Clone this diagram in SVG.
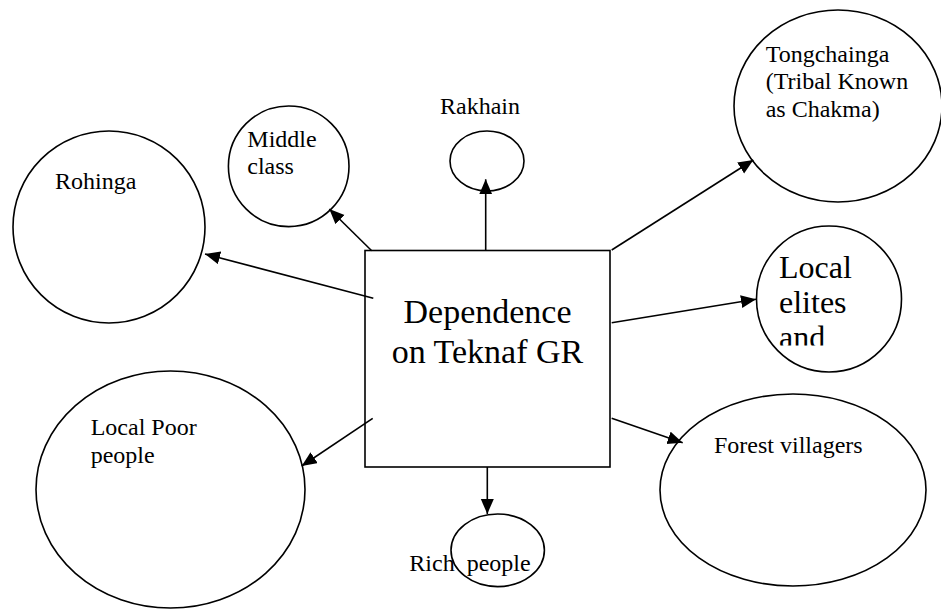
<svg xmlns="http://www.w3.org/2000/svg" width="941" height="609" viewBox="0 0 941 609">
  <style>
    .shape { fill: #ffffff; stroke: #000000; stroke-width: 1.6; }
    .link { fill: none; stroke: #000000; stroke-width: 1.6; }
    .lbl { font-family: 'Liberation Serif', 'Times New Roman', 'DejaVu Serif', serif; font-size: 24px; fill: #000000; }
    .big { font-size: 32px; }
    .hub { font-family: 'Liberation Serif', 'Times New Roman', 'DejaVu Serif', serif; font-size: 34px; fill: #000000; text-anchor: middle; }
  </style>
  <defs>
    <marker id="arrow" markerUnits="userSpaceOnUse" markerWidth="16" markerHeight="14" refX="15" refY="6.5" orient="auto">
      <path d="M0,0 L15,6.5 L0,13 z" fill="#000000"/>
    </marker>
    <clipPath id="elitesClip">
      <rect x="760" y="240" width="140" height="105.5"/>
    </clipPath>
  </defs>

  <rect width="941" height="609" fill="#ffffff"/>

  <!-- central hub -->
  <g id="hub">
    <rect class="shape" x="365" y="250.5" width="245" height="216.5"/>
    <text class="hub" x="487.5" y="323">Dependence</text>
    <text class="hub" x="487.5" y="363">on Teknaf GR</text>
  </g>

  <!-- surrounding groups -->
  <g id="rohinga">
    <ellipse class="shape" cx="109" cy="227" rx="96" ry="96"/>
    <text class="lbl" x="55" y="189">Rohinga</text>
  </g>

  <g id="middle-class">
    <circle class="shape" cx="288.7" cy="166.3" r="60.3"/>
    <text class="lbl" x="247.3" y="147.3">Middle</text>
    <text class="lbl" x="247.3" y="174.3">class</text>
  </g>

  <g id="rakhain">
    <ellipse class="shape" cx="487" cy="161" rx="37" ry="30"/>
    <text class="lbl" x="440" y="114.3">Rakhain</text>
  </g>

  <g id="tongchainga">
    <ellipse class="shape" cx="838" cy="106" rx="104" ry="96"/>
    <text class="lbl" x="765.7" y="61.7">Tongchainga</text>
    <text class="lbl" x="765.7" y="89.3">(Tribal Known</text>
    <text class="lbl" x="765.7" y="116.7">as Chakma)</text>
  </g>

  <g id="local-elites">
    <ellipse class="shape" cx="829" cy="299" rx="72.5" ry="73"/>
    <g clip-path="url(#elitesClip)">
      <text class="lbl big" x="779" y="278.3">Local</text>
      <text class="lbl big" x="779" y="313.3">elites</text>
      <text class="lbl big" x="779" y="348.3">and</text>
    </g>
  </g>

  <g id="forest-villagers">
    <ellipse class="shape" cx="793" cy="490" rx="133" ry="96"/>
    <text class="lbl" x="714" y="452.7">Forest villagers</text>
  </g>

  <g id="rich-people">
    <ellipse class="shape" cx="497.7" cy="550.3" rx="46.7" ry="36.3"/>
    <text class="lbl" y="570.7"><tspan x="409.3">Rich</tspan><tspan x="466.7">people</tspan></text>
  </g>

  <g id="local-poor">
    <ellipse class="shape" cx="170.5" cy="489.5" rx="134.5" ry="118.5"/>
    <text class="lbl" x="90.7" y="435">Local Poor</text>
    <text class="lbl" x="90.7" y="462.7">people</text>
  </g>

  <!-- connectors from the hub -->
  <g id="connectors">
    <line class="link" x1="373.3" y1="298.3" x2="205" y2="254" marker-end="url(#arrow)"/>
    <line class="link" x1="371.7" y1="250.7" x2="329.3" y2="209" marker-end="url(#arrow)"/>
    <line class="link" x1="485.7" y1="250.5" x2="485.7" y2="179.3" marker-end="url(#arrow)"/>
    <line class="link" x1="611.7" y1="250" x2="753.3" y2="160" marker-end="url(#arrow)"/>
    <line class="link" x1="611.7" y1="322.7" x2="756" y2="299.3" marker-end="url(#arrow)"/>
    <line class="link" x1="611.7" y1="418.3" x2="682.7" y2="442.7" marker-end="url(#arrow)"/>
    <line class="link" x1="487.3" y1="467" x2="487.3" y2="514" marker-end="url(#arrow)"/>
    <line class="link" x1="372.7" y1="418.3" x2="301.7" y2="466" marker-end="url(#arrow)"/>
  </g>
</svg>
